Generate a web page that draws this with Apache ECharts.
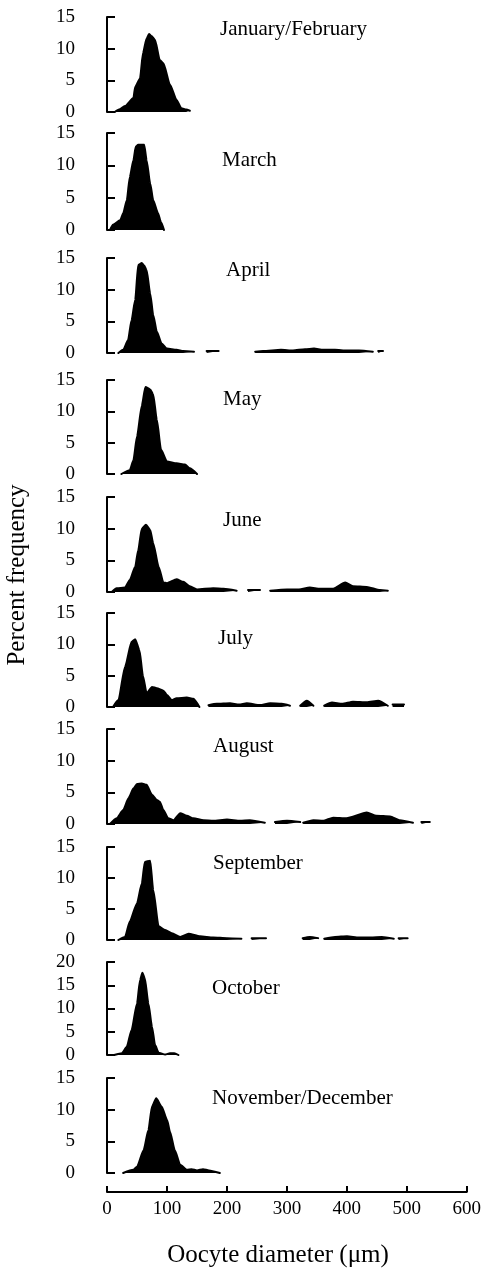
<!DOCTYPE html>
<html>
<head>
<meta charset="utf-8">
<script src="https://cdn.jsdelivr.net/npm/echarts@6/dist/echarts.min.js"></script>
<style>
html,body{margin:0;padding:0;background:#fff;}
#chart{width:484px;height:1268px;}
</style>
</head>
<body>
<div id="chart"></div>
<script>
// Oocyte diameter (µm), percent frequency; null = gap in the distribution
const janFeb = [[13,0],[20,0.4],[30,0.95],[44,2.2],[47,4.0],[55,5.3],[60,9.3],[66,11.6],[70,12.3],[74,12.0],[80,11.4],[88,8.2],[94,7.7],[105,4.3],[116,1.9],[124,0.6],[132,0.4],[138,0.2]];
const march = [[5,0],[10,0.8],[22,1.5],[27,2.6],[33,4.6],[38,8.2],[44,10.8],[48,12.9],[52,13.2],[62,13.2],[66,10.8],[72,7.2],[77,4.6],[85,2.6],[90,1.2],[95,0]];
const april = [[19,0],[27,0.5],[35,2.0],[41,5.2],[47,8.4],[52,13.9],[58,14.2],[62,13.8],[66,13.1],[72,9.4],[77,6.0],[83,3.4],[91,1.5],[100,0.7],[116,0.5],[127,0.3],[145,0.2],null,[166,0.3],[186,0.3],null,[247,0.2],[260,0.3],[290,0.5],[310,0.4],[330,0.6],[345,0.7],[360,0.5],[380,0.5],[400,0.4],[420,0.4],[443,0.2],null,[452,0.3],[460,0.3]];
const may = [[24,0],[38,0.6],[44,2.2],[50,6.0],[58,10.9],[64,13.9],[72,13.5],[77,12.7],[83,8.7],[90,3.9],[100,2.0],[116,1.7],[130,1.5],[138,0.9],[150,0]];
const june = [[8,0],[16,0.6],[30,0.7],[38,1.9],[47,4.0],[52,6.6],[58,10.0],[65,10.6],[72,9.8],[77,7.7],[86,4.0],[94,1.5],[100,1.4],[116,2.0],[127,1.6],[138,0.9],[150,0.4],[177,0.6],[194,0.5],[216,0.2],null,[235,0.3],[255,0.3],null,[272,0.2],[300,0.4],[320,0.4],[338,0.7],[355,0.5],[377,0.5],[397,1.5],[410,0.9],[433,0.8],[455,0.3],[468,0.2]];
const july = [[10,0],[19,1.1],[30,6.4],[41,10.4],[47,10.8],[54,9.1],[60,4.9],[66,2.2],[75,3.2],[83,3.0],[94,2.6],[100,1.9],[108,1.1],[116,1.4],[133,1.5],[144,1.3],[154,0],null,[169,0.3],[183,0.5],[205,0.6],[220,0.4],[233,0.6],[255,0.3],[272,0.6],[291,0.5],[305,0.2],null,[322,0.2],[333,1.0],[344,0.2],null,[362,0.2],[375,0.7],[392,0.5],[410,0.85],[433,0.75],[452,1.0],[468,0.2],null,[476,0.4],[495,0.4]];
const august = [[5,0],[16,0.9],[27,2.2],[36,4.1],[44,5.6],[50,6.3],[58,6.4],[66,6.2],[75,4.6],[83,3.8],[88,3.5],[94,2.2],[102,0.9],[111,0.6],[122,1.7],[133,1.3],[144,0.9],[161,0.6],[177,0.5],[200,0.7],[222,0.5],[238,0.6],[263,0.2],null,[280,0.3],[300,0.5],[322,0.3],null,[327,0.2],[344,0.6],[360,0.5],[377,1.0],[399,0.9],[433,1.8],[449,1.3],[472,1.2],[488,0.6],[510,0.2],null,[524,0.3],[538,0.3]];
const september = [[19,0],[30,0.5],[38,3.0],[50,5.9],[58,9.1],[63,12.6],[72,12.8],[77,8.1],[86,2.2],[97,1.6],[108,1.1],[122,0.5],[136,1.0],[155,0.6],[177,0.4],[200,0.3],[224,0.2],null,[241,0.3],[265,0.3],null,[326,0.3],[338,0.5],[352,0.3],null,[362,0.2],[380,0.5],[400,0.6],[420,0.4],[440,0.4],[458,0.5],[478,0.2],null,[486,0.3],[501,0.3]];
const october = [[12,0],[25,0.4],[33,1.8],[41,5.4],[50,11.1],[55,16.1],[59,17.7],[63,16.5],[69,11.1],[75,6.1],[80,2.2],[86,0.5],[97,0.1],[105,0.4],[112,0.4],[119,0]];
const novDec = [[27,0],[44,0.5],[50,1.0],[61,3.6],[69,6.8],[75,10.5],[82,11.8],[91,10.5],[100,8.4],[105,6.5],[113,3.6],[122,1.3],[133,0.5],[141,0.6],[150,0.4],[160,0.6],[170,0.4],[188,0]];

const monthNames = ['January/February','March','April','May','June','July','August','September','October','November/December'];
const monthData = [janFeb, march, april, may, june, july, august, september, october, novDec];
const yMaxes = [15,15,15,15,15,15,15,15,20,15];
const xTicks = [0,100,200,300,400,500,600];

// layout (pixels)
const panelTops = [17,133,258,380,497,613,729,847,962,1078];
const panelHeights = [95,97,95,94,95,94,95,93,93,95];
const labelPos = [[220,31],[222,162],[226,272],[223,401],[223,522],[218,640],[213,748],[213,865],[212,990],[212,1100]];

const SERIF = '"Liberation Serif", "Times New Roman", serif';
const grids = [], xAxes = [], yAxes = [], series = [], graphics = [];

monthData.forEach((data, i) => {
  grids.push({left: 107, width: 360, top: panelTops[i], height: panelHeights[i]});
  xAxes.push({gridIndex: i, type: 'value', min: 0, max: 600, show: false});
  yAxes.push({
    gridIndex: i, type: 'value', min: 0, max: yMaxes[i], interval: 5, offset: 22,
    axisLine: {show: true, lineStyle: {color: '#000', width: 2}},
    axisTick: {show: true, inside: true, length: 8, lineStyle: {color: '#000', width: 2}},
    axisLabel: {color: '#000', fontFamily: SERIF, fontSize: 19, margin: 10},
    splitLine: {show: false}
  });
  let seg = [];
  const segs = [];
  data.forEach(p => {
    if (p === null) { if (seg.length) segs.push(seg); seg = []; }
    else seg.push(p);
  });
  if (seg.length) segs.push(seg);
  segs.forEach(s => {
    series.push({
      type: 'line', xAxisIndex: i, yAxisIndex: i, data: s,
      showSymbol: false, symbol: 'none', smooth: 0.2, smoothMonotone: 'x',
      lineStyle: {color: '#000', width: 2, cap: 'round', join: 'round'},
      areaStyle: {color: '#000', opacity: 1},
      silent: true, animation: false
    });
  });
  graphics.push({
    type: 'text', left: labelPos[i][0], top: labelPos[i][1] - 12,
    style: {text: monthNames[i], fill: '#000', font: '21px ' + SERIF}
  });
});

// bottom x axis
grids.push({left: 107, width: 360, top: 1100, height: 92});
xAxes.push({
  gridIndex: 10, type: 'value', min: 0, max: 600, interval: 100,
  axisLine: {show: true, lineStyle: {color: '#000', width: 2}},
  axisTick: {show: true, inside: true, length: 6, lineStyle: {color: '#000', width: 2}},
  axisLabel: {color: '#000', fontFamily: SERIF, fontSize: 19, margin: 8,
              formatter: v => xTicks.includes(v) ? String(v) : ''},
  splitLine: {show: false}
});
yAxes.push({gridIndex: 10, type: 'value', show: false, min: 0, max: 1});

graphics.push({
  type: 'text', x: 278, y: 1255,
  style: {text: 'Oocyte diameter (μm)', fill: '#000', font: '25px ' + SERIF, textAlign: 'center', textVerticalAlign: 'middle'}
});
graphics.push({
  type: 'text', x: 17, y: 575, rotation: Math.PI / 2,
  style: {text: 'Percent frequency', fill: '#000', font: '25px ' + SERIF, textAlign: 'center', textVerticalAlign: 'middle'}
});

const chart = echarts.init(document.getElementById('chart'), null, {renderer: 'canvas'});
chart.setOption({
  backgroundColor: '#fff',
  animation: false,
  grid: grids, xAxis: xAxes, yAxis: yAxes, series: series, graphic: graphics
});
</script>
</body>
</html>
